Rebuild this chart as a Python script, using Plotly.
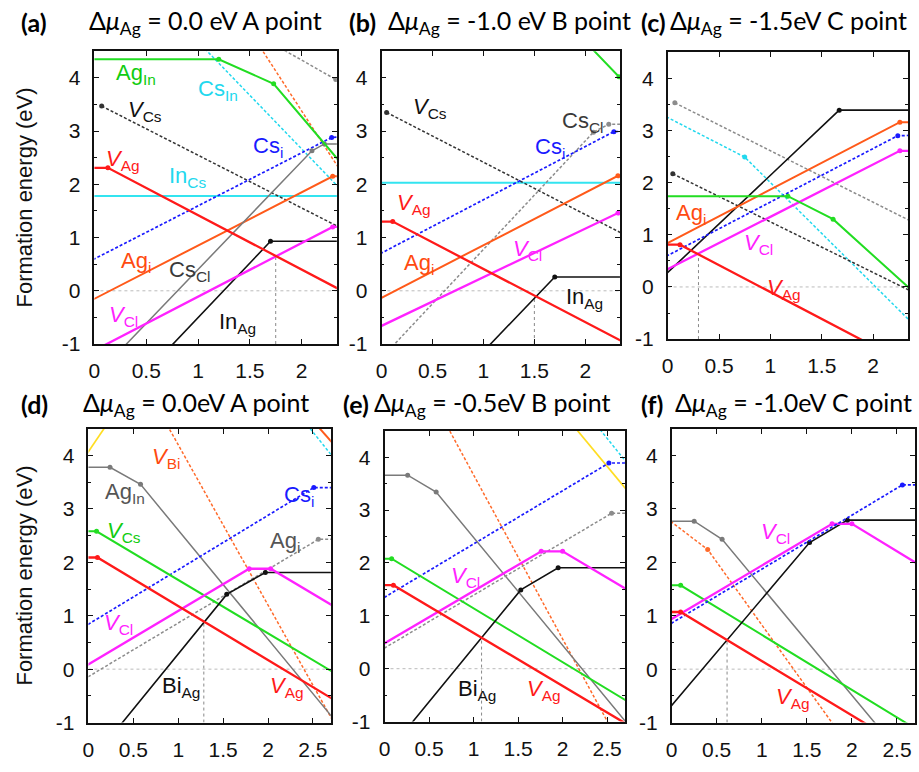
import plotly.graph_objects as go

# ---------------- axes / ticks ----------------
top_xticks = [0, 0.5, 1, 1.5, 2]
bot_xticks = [0, 0.5, 1, 1.5, 2, 2.5]
y_ticks = [-1, 0, 1, 2, 3, 4]
top_xmax = 2.34
bot_xmax = 2.7
y_min, y_max = -1.0, 4.5

# ---------------- panel (a) ----------------
a_Ag_In = [(-0.1, 4.35), (1.20, 4.35), (1.73, 3.89), (2.45, 2.24)]
a_Cs_In = [(1.0, 4.68), (2.45, 1.76)]
a_or_dash = [(1.55, 4.73), (2.45, 2.03)]
a_grey_dash = [(1.75, 4.61), (2.33, 3.97), (2.45, 3.97)]
a_V_Cs = [(0.07, 3.47), (2.45, 1.11)]
a_Cs_i = [(-0.1, 0.50), (2.29, 2.88), (2.45, 2.90)]
a_V_Ag = [(-0.1, 2.31), (0.13, 2.31), (2.45, -0.06)]
a_In_Cs = [(-0.1, 1.78), (2.45, 1.78)]
a_Ag_i = [(-0.1, -0.25), (2.30, 2.15), (2.45, 2.15)]
a_Cs_Cl = [(0.25, -1.12), (2.10, 2.63), (2.22, 2.76), (2.45, 2.76)]
a_V_Cl = [(0.0, -1.12), (2.30, 1.20), (2.45, 1.20)]
a_In_Ag = [(0.70, -1.12), (1.70, 0.93), (2.45, 0.93)]
a_vline = [1.75, 0.65]

# ---------------- panel (b) ----------------
b_green = [(2.0, 4.68), (2.33, 4.02), (2.45, 4.02)]
b_V_Cs = [(0.05, 3.35), (2.45, 0.99)]
b_Cs_Cl = [(0.07, -1.12), (2.08, 2.98), (2.23, 3.13), (2.45, 3.13)]
b_Cs_i = [(-0.1, 0.61), (2.28, 2.99), (2.45, 3.00)]
b_In_Cs = [(-0.1, 2.03), (2.45, 2.03)]
b_Ag_i = [(-0.1, -0.23), (2.32, 2.16), (2.45, 2.16)]
b_V_Ag = [(-0.1, 1.30), (0.11, 1.30), (2.45, -1.04)]
b_V_Cl = [(-0.1, -0.75), (2.32, 1.46), (2.45, 1.46)]
b_In_Ag = [(1.01, -1.12), (1.70, 0.26), (2.45, 0.26)]
b_vline = [1.50, -0.09]

# ---------------- panel (c) ----------------
c_grey_dash = [(0.07, 3.53), (2.45, 1.18)]
c_Cs_In = [(-0.1, 3.35), (0.75, 2.49), (2.45, -0.83)]
c_In_Ag = [(-0.1, 0.09), (1.67, 3.39), (2.45, 3.39)]
c_Ag_i = [(-0.1, 0.74), (2.26, 3.16), (2.45, 3.16)]
c_Cs_i = [(-0.1, 0.50), (2.24, 2.90), (2.45, 2.91)]
c_V_Cl = [(-0.1, 0.24), (2.26, 2.61), (2.45, 2.61)]
c_dark_dash = [(0.05, 2.17), (2.45, -0.16)]
c_Ag_In = [(-0.1, 1.74), (1.17, 1.74), (1.61, 1.30), (2.45, -0.20)]
c_V_Ag = [(-0.1, 0.81), (0.12, 0.81), (2.0, -1.13)]
c_vline = [0.30, 0.63]

# ---------------- panel (d) ----------------
d_yellow = [(-0.05, 3.95), (0.2, 4.57)]
d_cyan_dash = [(2.4, 4.65), (2.8, 3.81)]
d_orange = [(2.5, 4.65), (2.8, 4.08)]
d_V_Bi = [(0.85, 4.65), (2.8, -1.2)]
d_Ag_In = [(-0.1, 3.78), (0.24, 3.78), (0.58, 3.46), (2.8, -1.07)]
d_Cs_i = [(-0.1, 0.74), (2.51, 3.40), (2.8, 3.40)]
d_V_Cs = [(-0.1, 2.58), (0.09, 2.58), (2.8, -0.13)]
d_Ag_i = [(-0.1, -0.24), (2.56, 2.43), (2.8, 2.43)]
d_V_Ag = [(-0.1, 2.09), (0.10, 2.09), (2.8, -0.64)]
d_V_Cl = [(-0.1, -0.01), (1.79, 1.88), (2.03, 1.88), (2.8, 1.11)]
d_Bi_Ag = [(0.32, -1.12), (1.54, 1.40), (1.97, 1.81), (2.8, 1.81)]
d_vline = [1.285, 0.87]

# ---------------- panel (e) ----------------
e_yellow = [(2.1, 4.64), (2.8, 3.22)]
e_cyan_dash = [(2.35, 4.67), (2.8, 3.73)]
e_Cs_i = [(-0.1, 1.25), (2.52, 3.89), (2.8, 3.89)]
e_V_Bi = [(0.68, 4.66), (2.6, -1.3)]
e_Ag_In = [(-0.1, 3.66), (0.26, 3.66), (0.58, 3.34), (2.8, -1.19)]
e_Ag_i = [(-0.1, 0.29), (2.55, 2.94), (2.8, 2.94)]
e_V_Cs = [(-0.1, 2.08), (0.08, 2.08), (2.8, -0.69)]
e_V_Cl = [(-0.1, 0.38), (1.76, 2.22), (2.0, 2.22), (2.8, 1.42)]
e_V_Ag = [(-0.1, 1.58), (0.10, 1.58), (2.8, -1.13)]
e_Bi_Ag = [(0.26, -1.12), (1.53, 1.49), (1.95, 1.91), (2.8, 1.91)]
e_vline = [1.09, 0.57]

# ---------------- panel (f) ----------------
f_Ag_In = [(-0.1, 2.77), (0.25, 2.77), (0.56, 2.43), (2.35, -1.2)]
f_V_Bi = [(-0.1, 2.88), (0.40, 2.24), (1.85, -1.17)]
f_Cs_i = [(-0.1, 0.76), (2.56, 3.45), (2.8, 3.45)]
f_V_Cl = [(-0.1, 0.84), (1.78, 2.72), (2.0, 2.72), (2.8, 1.90)]
f_Bi_Ag = [(-0.1, -0.88), (1.53, 2.37), (1.95, 2.79), (2.8, 2.79)]
f_V_Cs = [(-0.1, 1.57), (0.10, 1.57), (2.7, -1.11)]
f_V_Ag = [(-0.1, 1.07), (0.10, 1.07), (2.2, -1.07)]
f_vline = [0.615, 0.55]

# ---------------- titles ----------------
tags = ["(a)", "(b)", "(c)", "(d)", "(e)", "(f)"]
titles = [
    "Δ<i>μ</i><sub>Ag</sub> = 0.0 eV A point",
    "Δ<i>μ</i><sub>Ag</sub> = -1.0 eV B point",
    "Δ<i>μ</i><sub>Ag</sub> = -1.5eV C point",
    "Δ<i>μ</i><sub>Ag</sub> = 0.0eV A point",
    "Δ<i>μ</i><sub>Ag</sub> = -0.5eV B point",
    "Δ<i>μ</i><sub>Ag</sub> = -1.0eV C point",
]
y_title = "Formation energy (eV)"

# ---------------- styles ----------------
STY = {
    "green":   dict(color="#22dd22", width=2.0, dash="solid"),
    "cyan":    dict(color="#33e4f0", width=2.0, dash="solid"),
    "cyand":   dict(color="#22d8ee", width=1.5, dash="3px,2px"),
    "orange":  dict(color="#ff5a1a", width=2.0, dash="solid"),
    "orangd":  dict(color="#ff6a2a", width=1.5, dash="3px,2px"),
    "grey":    dict(color="#7a7a7a", width=1.5, dash="solid"),
    "greyd":   dict(color="#8c8c8c", width=1.5, dash="3px,2px"),
    "darkd":   dict(color="#333333", width=1.5, dash="3px,2px"),
    "blued":   dict(color="#1a1aff", width=1.7, dash="3px,2px"),
    "red":     dict(color="#ff1a1a", width=2.3, dash="solid"),
    "magenta": dict(color="#ff22ff", width=2.3, dash="solid"),
    "black":   dict(color="#111111", width=1.6, dash="solid"),
    "yellow":  dict(color="#ffdd22", width=1.7, dash="solid"),
}

LBL = dict(green="#11cc11", cyan="#22d8ee", black="#111111", blue="#1a1aff", red="#ff1a1a",
           orange="#ff4a10", dgrey="#3a3a3a", grey="#555555", magenta="#ff22ff")

panels = [
    dict(xdom=(89, 333), ydom=(52, 349), xmax=top_xmax, xt=top_xticks, vline=a_vline,
         tagx=13, titx=82, ty=22,
         series=[(a_In_Cs, "cyan"), (a_Cs_In, "cyand"), (a_or_dash, "orangd"), (a_grey_dash, "greyd"),
                 (a_V_Cs, "darkd"), (a_Cs_i, "blued"), (a_Ag_i, "orange"), (a_Cs_Cl, "grey"),
                 (a_In_Ag, "black"), (a_V_Cl, "magenta"), (a_V_Ag, "red"), (a_Ag_In, "green")],
         labels=[("Ag<sub>In</sub>", 0.40, 4.07, "green"), ("Cs<sub>In</sub>", 1.19, 3.78, "cyan"),
                 ("<i>V</i><sub>Cs</sub>", 0.49, 3.38, "black"), ("Cs<sub>i</sub>", 1.68, 2.70, "blue"),
                 ("<i>V</i><sub>Ag</sub>", 0.28, 2.45, "red"), ("In<sub>Cs</sub>", 0.90, 2.14, "cyan"),
                 ("Ag<sub>i</sub>", 0.40, 0.54, "orange"), ("Cs<sub>Cl</sub>", 0.92, 0.38, "dgrey"),
                 ("<i>V</i><sub>Cl</sub>", 0.28, -0.48, "magenta"), ("In<sub>Ag</sub>", 1.38, -0.60, "black")]),
    dict(xdom=(378, 618), ydom=(52, 349), xmax=top_xmax, xt=top_xticks, vline=b_vline,
         tagx=343, titx=383, ty=22,
         series=[(b_In_Cs, "cyan"), (b_green, "green"), (b_V_Cs, "darkd"), (b_Cs_Cl, "greyd"),
                 (b_Cs_i, "blued"), (b_Ag_i, "orange"), (b_In_Ag, "black"), (b_V_Cl, "magenta"),
                 (b_V_Ag, "red")],
         labels=[("<i>V</i><sub>Cs</sub>", 0.48, 3.43, "black"), ("Cs<sub>Cl</sub>", 1.97, 3.17, "dgrey"),
                 ("Cs<sub>i</sub>", 1.65, 2.68, "blue"), ("<i>V</i><sub>Ag</sub>", 0.32, 1.63, "red"),
                 ("Ag<sub>i</sub>", 0.37, 0.51, "orange"), ("<i>V</i><sub>Cl</sub>", 1.43, 0.76, "magenta"),
                 ("In<sub>Ag</sub>", 1.99, -0.14, "black")]),
    dict(xdom=(666, 908), ydom=(53, 344), xmax=top_xmax, xt=top_xticks, vline=c_vline,
         tagx=637, titx=666, ty=22,
         series=[(c_grey_dash, "greyd"), (c_Cs_In, "cyand"), (c_dark_dash, "darkd"), (c_In_Ag, "black"),
                 (c_Cs_i, "blued"), (c_Ag_i, "orange"), (c_V_Cl, "magenta"), (c_Ag_In, "green"),
                 (c_V_Ag, "red")],
         labels=[("Ag<sub>i</sub>", 0.23, 1.39, "orange"), ("<i>V</i><sub>Cl</sub>", 0.88, 0.82, "magenta"),
                 ("<i>V</i><sub>Ag</sub>", 1.13, -0.03, "red")]),
    dict(xdom=(83, 327), ydom=(435, 733), xmax=bot_xmax, xt=bot_xticks, vline=d_vline,
         tagx=13, titx=75, ty=410,
         series=[(d_yellow, "yellow"), (d_cyan_dash, "cyand"), (d_orange, "orange"), (d_V_Bi, "orangd"),
                 (d_Ag_In, "grey"), (d_Cs_i, "blued"), (d_Ag_i, "greyd"), (d_V_Cs, "green"),
                 (d_Bi_Ag, "black"), (d_V_Cl, "magenta"), (d_V_Ag, "red")],
         labels=[("<i>V</i><sub>Bi</sub>", 0.86, 3.95, "orange"), ("Cs<sub>i</sub>", 2.34, 3.24, "blue"),
                 ("Ag<sub>In</sub>", 0.41, 3.30, "grey"), ("<i>V</i><sub>Cs</sub>", 0.40, 2.57, "green"),
                 ("Ag<sub>i</sub>", 2.19, 2.38, "grey"), ("<i>V</i><sub>Cl</sub>", 0.34, 0.84, "magenta"),
                 ("Bi<sub>Ag</sub>", 1.03, -0.33, "black"), ("<i>V</i><sub>Ag</sub>", 2.21, -0.33, "red")]),
    dict(xdom=(381, 623), ydom=(437, 732), xmax=bot_xmax, xt=bot_xticks, vline=e_vline,
         tagx=337, titx=368, ty=410,
         series=[(e_yellow, "yellow"), (e_cyan_dash, "cyand"), (e_Cs_i, "blued"), (e_V_Bi, "orangd"),
                 (e_Ag_In, "grey"), (e_Ag_i, "greyd"), (e_V_Cs, "green"), (e_Bi_Ag, "black"),
                 (e_V_Cl, "magenta"), (e_V_Ag, "red")],
         labels=[("<i>V</i><sub>Cl</sub>", 0.91, 1.74, "magenta"), ("Bi<sub>Ag</sub>", 1.04, -0.40, "black"),
                 ("<i>V</i><sub>Ag</sub>", 1.79, -0.40, "red")]),
    dict(xdom=(670, 915), ydom=(435, 733), xmax=bot_xmax, xt=bot_xticks, vline=f_vline,
         tagx=637, titx=671, ty=410,
         series=[(f_Ag_In, "grey"), (f_V_Bi, "orangd"), (f_V_Cs, "green"), (f_Bi_Ag, "black"),
                 (f_V_Cl, "magenta"), (f_Cs_i, "blued"), (f_V_Ag, "red")],
         labels=[("<i>V</i><sub>Cl</sub>", 1.15, 2.54, "magenta"), ("<i>V</i><sub>Ag</sub>", 1.35, -0.54, "red")]),
]

W, H = 919, 772
TICKFONT = dict(family="Liberation Sans, Arial, sans-serif", size=21, color="#111111")
LABFONT = "Liberation Sans, Arial, sans-serif"
TITFONT = "Lato, Carlito, Calibri, sans-serif"

fig = go.Figure()
layout = {}
annotations = []

for i, p in enumerate(panels):
    n = i + 1
    xa = "x" if n == 1 else f"x{n}"
    ya = "y" if n == 1 else f"y{n}"
    xk = "xaxis" if n == 1 else f"xaxis{n}"
    yk = "yaxis" if n == 1 else f"yaxis{n}"

    # dotted zero line and dotted vertical marker line
    fig.add_trace(go.Scatter(x=[0, p["xmax"]], y=[0, 0], mode="lines",
                             line=dict(color="#bbbbbb", width=1, dash="dot"),
                             xaxis=xa, yaxis=ya, showlegend=False, hoverinfo="skip"))
    fig.add_trace(go.Scatter(x=[p["vline"][0], p["vline"][0]], y=[y_min, p["vline"][1]], mode="lines",
                             line=dict(color="#888888", width=1, dash="dot"),
                             xaxis=xa, yaxis=ya, showlegend=False, hoverinfo="skip"))

    for pts, sk in p["series"]:
        s = STY[sk]
        fig.add_trace(go.Scatter(
            x=[q[0] for q in pts], y=[q[1] for q in pts], mode="lines+markers",
            line=dict(color=s["color"], width=s["width"], dash=s["dash"]),
            marker=dict(size=5, color=s["color"]),
            xaxis=xa, yaxis=ya, showlegend=False, hoverinfo="skip"))

    x0, x1 = p["xdom"]
    y0, y1 = p["ydom"]
    layout[xk] = dict(domain=[x0 / W, x1 / W], range=[0, p["xmax"]], anchor=ya,
                      tickvals=p["xt"], ticktext=[f"{v:g}" for v in p["xt"]],
                      ticks="inside", ticklen=5, tickwidth=1, tickcolor="#111111",
                      showline=True, linecolor="#111111", linewidth=1.6, mirror="ticks",
                      showgrid=False, zeroline=False, tickfont=TICKFONT, ticklabelstandoff=7)
    layout[yk] = dict(domain=[1 - y1 / H, 1 - y0 / H], range=[y_min, y_max], anchor=xa,
                      tickvals=y_ticks, ticktext=[f"{v:g}" for v in y_ticks],
                      ticks="inside", ticklen=5, tickwidth=1, tickcolor="#111111",
                      minor=dict(dtick=0.5, ticks="inside", ticklen=3, tickcolor="#111111", showgrid=False),
                      showline=True, linecolor="#111111", linewidth=1.6, mirror="ticks",
                      showgrid=False, zeroline=False, tickfont=TICKFONT, ticklabelstandoff=8)

    for txt, lx, ly, lc in p["labels"]:
        annotations.append(dict(text=txt, x=lx, y=ly, xref=xa, yref=ya, showarrow=False,
                                xanchor="center", yanchor="middle",
                                font=dict(family=LABFONT, size=22, color=LBL[lc])))

    annotations.append(dict(text="<b>" + tags[i] + "</b>", x=p["tagx"] / W, y=1 - p["ty"] / H,
                            xref="paper", yref="paper", showarrow=False, xanchor="left", yanchor="middle",
                            font=dict(family=TITFONT, size=25, color="#000000")))
    annotations.append(dict(text=titles[i], x=p["titx"] / W, y=1 - p["ty"] / H,
                            xref="paper", yref="paper", showarrow=False, xanchor="left", yanchor="middle",
                            font=dict(family=TITFONT, size=25, color="#000000")))

for yc in [(52 + 349) / 2, (435 + 733) / 2]:
    annotations.append(dict(text=y_title, x=19 / W, y=1 - yc / H, xref="paper", yref="paper",
                            showarrow=False, textangle=-90, xanchor="center", yanchor="middle",
                            font=dict(family=LABFONT, size=22, color="#111111")))

fig.update_layout(width=W, height=H, margin=dict(l=0, r=0, t=0, b=0),
                  paper_bgcolor="white", plot_bgcolor="white",
                  annotations=annotations, **layout)

fig.write_html("out.html")
